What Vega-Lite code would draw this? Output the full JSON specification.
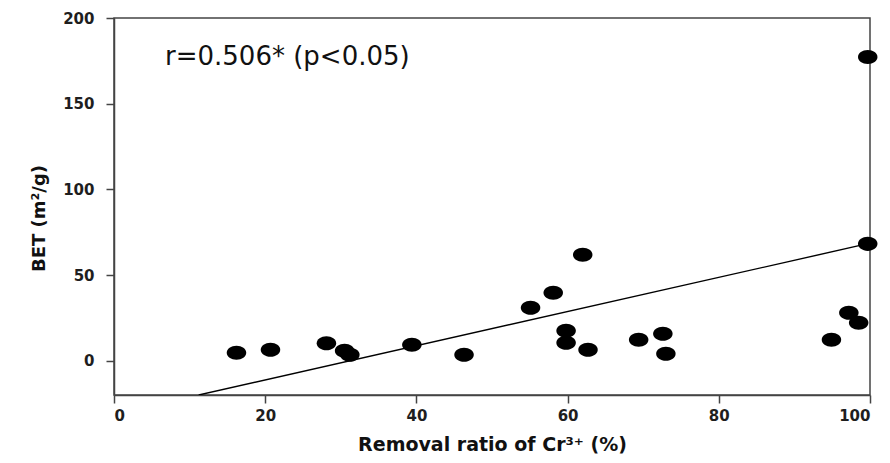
{
  "$schema": "https://vega.github.io/schema/vega-lite/v6.json",
  "width": 756,
  "height": 377,
  "autosize": {"type": "none"},
  "padding": {"left": 114, "top": 18, "right": 20, "bottom": 68},
  "background": "white",
  "config": {
    "view": {"stroke": "#444", "strokeWidth": 1.5},
    "axis": {
      "domainColor": "#444", "domainWidth": 1.5, "tickColor": "#444", "tickWidth": 1.5, "tickSize": 8,
      "grid": false, "labelFont": "DejaVu Sans", "labelFontSize": 15, "labelFontWeight": "bold", "labelColor": "#1e1e1e",
      "titleFont": "DejaVu Sans", "titleFontWeight": "bold", "titleColor": "#111"
    }
  },
  "datasets": {
    "points": [
      {"ratio": 16.2, "bet": 4.7},
      {"ratio": 20.7, "bet": 6.4},
      {"ratio": 28.1, "bet": 10.2},
      {"ratio": 30.5, "bet": 5.8},
      {"ratio": 31.2, "bet": 3.5},
      {"ratio": 39.4, "bet": 9.3},
      {"ratio": 46.3, "bet": 3.5},
      {"ratio": 55.1, "bet": 30.9},
      {"ratio": 58.1, "bet": 39.7},
      {"ratio": 62.0, "bet": 61.8},
      {"ratio": 59.8, "bet": 17.5},
      {"ratio": 59.8, "bet": 10.5},
      {"ratio": 62.7, "bet": 6.4},
      {"ratio": 69.4, "bet": 12.2},
      {"ratio": 72.6, "bet": 15.7},
      {"ratio": 73.0, "bet": 4.1},
      {"ratio": 94.9, "bet": 12.2},
      {"ratio": 97.2, "bet": 28.0},
      {"ratio": 98.5, "bet": 22.2},
      {"ratio": 99.7, "bet": 68.2},
      {"ratio": 99.7, "bet": 177.2}
    ],
    "fit": [
      {"ratio": 11.2, "bet": -20},
      {"ratio": 99.7, "bet": 68.3}
    ],
    "note": [
      {"label": "r=0.506* (p<0.05)"}
    ]
  },
  "layer": [
    {
      "data": {"name": "fit"},
      "mark": {"type": "line", "color": "#000", "strokeWidth": 1.4, "clip": true},
      "encoding": {
        "x": {"field": "ratio", "type": "quantitative", "scale": {"domain": [0, 100], "nice": false},
              "axis": {"values": [0, 20, 40, 60, 80, 100], "title": "Removal ratio of Cr³⁺ (%)", "titleFontSize": 19, "titlePadding": 12, "labelPadding": 5}},
        "y": {"field": "bet", "type": "quantitative", "scale": {"domain": [-20, 200], "nice": false, "zero": false},
              "axis": {"values": [0, 50, 100, 150, 200], "title": "BET (m²/g)", "titleFontSize": 18, "titlePadding": 14, "labelPadding": 12, "titleY": 200}}
      }
    },
    {
      "data": {"name": "points"},
      "mark": {"type": "point", "filled": true, "color": "#000", "opacity": 1, "size": 380,
               "shape": "M -1,0 A 1,0.72 0 1 1 1,0 A 1,0.72 0 1 1 -1,0 Z", "clip": false},
      "encoding": {
        "x": {"field": "ratio", "type": "quantitative"},
        "y": {"field": "bet", "type": "quantitative"}
      }
    },
    {
      "data": {"name": "note"},
      "mark": {"type": "text", "align": "left", "baseline": "alphabetic",
               "font": "DejaVu Sans", "fontSize": 26, "color": "#111"},
      "encoding": {
        "text": {"field": "label", "type": "nominal"},
        "x": {"datum": 6.75, "type": "quantitative"},
        "y": {"datum": 172.6, "type": "quantitative"}
      }
    }
  ]
}
